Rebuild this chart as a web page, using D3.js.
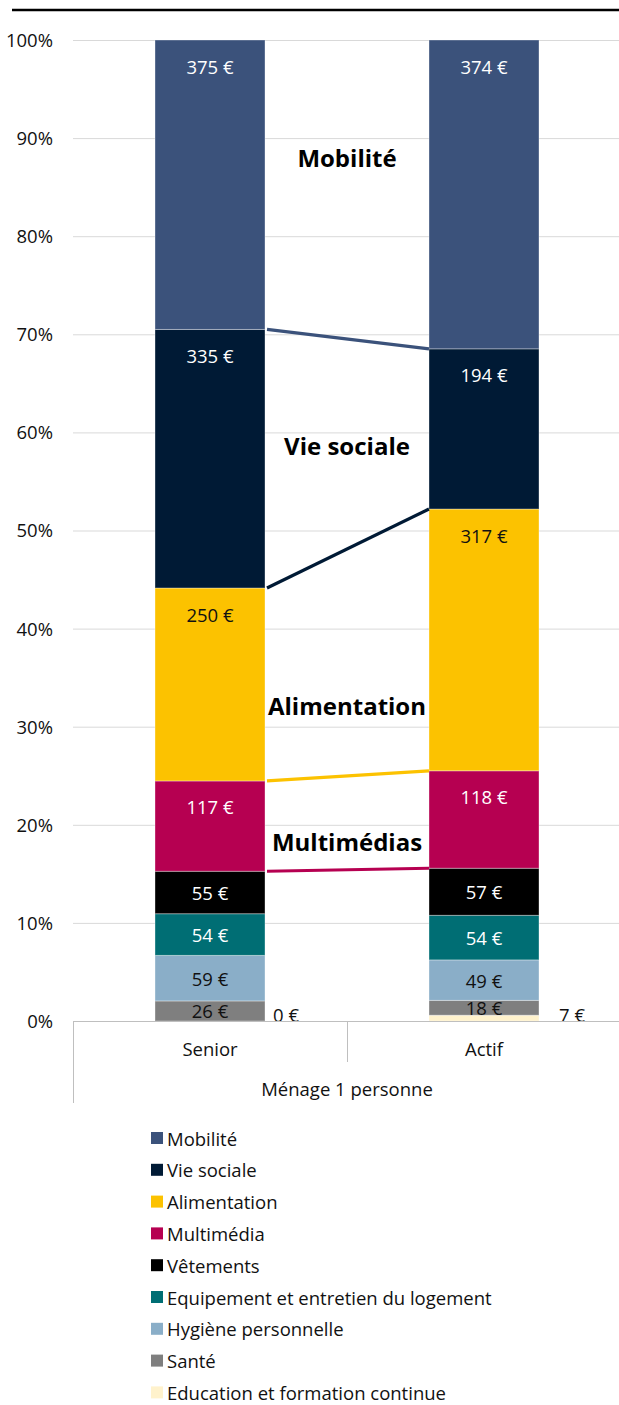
<!DOCTYPE html>
<html>
<head>
  <meta charset="utf-8">
  <script src="https://d3js.org/d3.v7.min.js"></script>
  <style>
    body { margin: 0; background: #fff; }
    svg text { font-family: "Open Sans", sans-serif; }
    .grid line { stroke: #d9d9d9; }
    .grid .domain { stroke: none; }
    .yaxis .domain { stroke: none; }
    .yaxis text { font-size: 18.5px; fill: #111; font-family: "Open Sans", sans-serif; }
    .val { font-size: 18.5px; }
    .note { font-size: 24px; font-weight: 700; fill: #000; }
    .legend text { font-size: 18.5px; fill: #111; }
  </style>
</head>
<body>
  <svg id="chart" width="619" height="1405"></svg>
  <script>
    // categories, bottom to top of the stack
    const keys = ["Education et formation continue", "Santé", "Hygiène personnelle",
                  "Equipement et entretien du logement", "Vêtements", "Multimédia",
                  "Alimentation", "Vie sociale", "Mobilité"];
    const colors = ["#fff2cc", "#7f7f7f", "#8aaec8", "#006e74", "#000000",
                    "#b60051", "#fcc200", "#001a35", "#3b527b"];
    const groups = ["Senior", "Actif"];
    const seniorValues = [0, 26, 59, 54, 55, 117, 250, 335, 375];
    const actifValues  = [7, 18, 49, 54, 57, 118, 317, 194, 374];
    const groupTitle = "Ménage 1 personne";
    const yTicks = [0, 0.1, 0.2, 0.3, 0.4, 0.5, 0.6, 0.7, 0.8, 0.9, 1];
    // annotated series (series lines + bold titles)
    const noteKeys  = ["Mobilité", "Vie sociale", "Alimentation", "Multimédia"];
    const noteTexts = ["Mobilité", "Vie sociale", "Alimentation", "Multimédias"];
    const noteLevels = [0.88, 0.587, 0.322, 0.183];
    const legendOrder = ["Mobilité", "Vie sociale", "Alimentation", "Multimédia", "Vêtements",
                         "Equipement et entretien du logement", "Hygiène personnelle", "Santé",
                         "Education et formation continue"];
    const darkText = ["Education et formation continue", "Santé", "Hygiène personnelle", "Alimentation"];
    // the tiny bottom segment gets its label to the right of the bar
    const eduLabelDx = [8, 20];

    const svg = d3.select("#chart");
    const plotLeft = 73, plotRight = 621, plotTop = 40, plotBottom = 1021;
    const barWidth = 110;

    // build rows for the stack
    const rows = groups.map((g, i) => {
      let r = { group: g };
      const vals = i === 0 ? seniorValues : actifValues;
      keys.forEach((k, j) => r[k] = vals[j]);
      return r;
    });
    const series = d3.stack().keys(keys).offset(d3.stackOffsetExpand)(rows);

    const x = d3.scaleBand().domain(groups).range([plotLeft, plotRight]);
    const y = d3.scaleLinear().domain([0, 1]).range([plotBottom, plotTop]);
    const color = d3.scaleOrdinal().domain(keys).range(colors);
    const barX = g => x(g) + (x.bandwidth() - barWidth) / 2;

    // top rule
    svg.append("line").attr("x1", 12).attr("x2", 619).attr("y1", 10).attr("y2", 10)
       .attr("stroke", "#000").attr("stroke-width", 2.5);

    // gridlines
    svg.append("g").attr("class", "grid")
       .attr("transform", `translate(${plotLeft},0)`)
       .call(d3.axisLeft(y).tickValues(yTicks.slice(1)).tickFormat("").tickSize(-(619 - plotLeft)));

    // y labels
    svg.append("g").attr("class", "yaxis")
       .attr("transform", "translate(58,0)")
       .call(d3.axisLeft(y).tickValues(yTicks).tickFormat(d3.format(".0%")).tickSize(0).tickPadding(5))
       .selectAll("text").attr("dy", "0.35em");

    // bars
    const layer = svg.append("g");
    series.forEach(s => {
      layer.selectAll(null).data(s).join("rect")
        .attr("x", d => barX(d.data.group))
        .attr("width", barWidth)
        .attr("y", d => y(d[1]))
        .attr("height", d => y(d[0]) - y(d[1]))
        .attr("fill", color(s.key))
        .attr("stroke", "#fff").attr("stroke-opacity", 0.35).attr("stroke-width", 1);
    });

    // value labels
    series.forEach(s => {
      const outside = s.key === keys[0];
      layer.selectAll(null).data(s).join("text")
        .attr("class", "val")
        .attr("text-anchor", outside ? "start" : "middle")
        .attr("x", (d, i) => outside ? barX(d.data.group) + barWidth + eduLabelDx[i] : barX(d.data.group) + barWidth / 2)
        .attr("y", d => {
          if (outside) return y(0) - 7;
          const h = y(d[0]) - y(d[1]);
          return y(d[1]) + Math.min(26, h / 2);
        })
        .attr("dominant-baseline", "central")
        .attr("fill", darkText.includes(s.key) ? "#111" : "#fff")
        .text(d => d.data[s.key] + " €");
    });

    // series lines between the bars
    noteKeys.forEach(k => {
      const s = series.find(d => d.key === k);
      svg.append("line")
        .attr("x1", barX(groups[0]) + barWidth + 2).attr("y1", y(s[0][0]))
        .attr("x2", barX(groups[1])).attr("y2", y(s[1][0]))
        .attr("stroke", color(k)).attr("stroke-width", 3.2);
    });

    // bold titles
    svg.selectAll("text.note").data(noteTexts).join("text")
      .attr("class", "note")
      .attr("x", x(groups[1]))
      .attr("y", (d, i) => y(noteLevels[i]))
      .attr("text-anchor", "middle")
      .attr("dominant-baseline", "central")
      .text(d => d);

    // category axis
    const cat = svg.append("g").attr("stroke", "#bfbfbf").attr("stroke-width", 1);
    cat.append("line").attr("x1", plotLeft).attr("x2", 619).attr("y1", plotBottom + 0.5).attr("y2", plotBottom + 0.5);
    cat.append("line").attr("x1", plotLeft + 0.5).attr("x2", plotLeft + 0.5).attr("y1", plotBottom).attr("y2", 1103);
    cat.append("line").attr("x1", x(groups[1]) + 0.5).attr("x2", x(groups[1]) + 0.5).attr("y1", plotBottom).attr("y2", 1062);
    svg.selectAll("text.cat").data(groups).join("text")
      .attr("class", "val cat")
      .attr("x", d => x(d) + x.bandwidth() / 2)
      .attr("y", 1048)
      .attr("text-anchor", "middle").attr("dominant-baseline", "central")
      .attr("fill", "#111")
      .text(d => d);
    svg.append("text").attr("class", "val")
      .attr("x", x(groups[1])).attr("y", 1088)
      .attr("text-anchor", "middle").attr("dominant-baseline", "central")
      .attr("fill", "#111")
      .text(groupTitle);

    // legend
    const legend = svg.append("g").attr("class", "legend");
    const item = legend.selectAll("g").data(legendOrder).join("g")
      .attr("transform", (d, i) => `translate(151,${1138 + i * 31.8})`);
    item.append("rect").attr("x", 0).attr("y", -6).attr("width", 12).attr("height", 12)
      .attr("fill", d => color(d));
    item.append("text").attr("x", 16).attr("y", 0).attr("dominant-baseline", "central").text(d => d);
  </script>
</body>
</html>
